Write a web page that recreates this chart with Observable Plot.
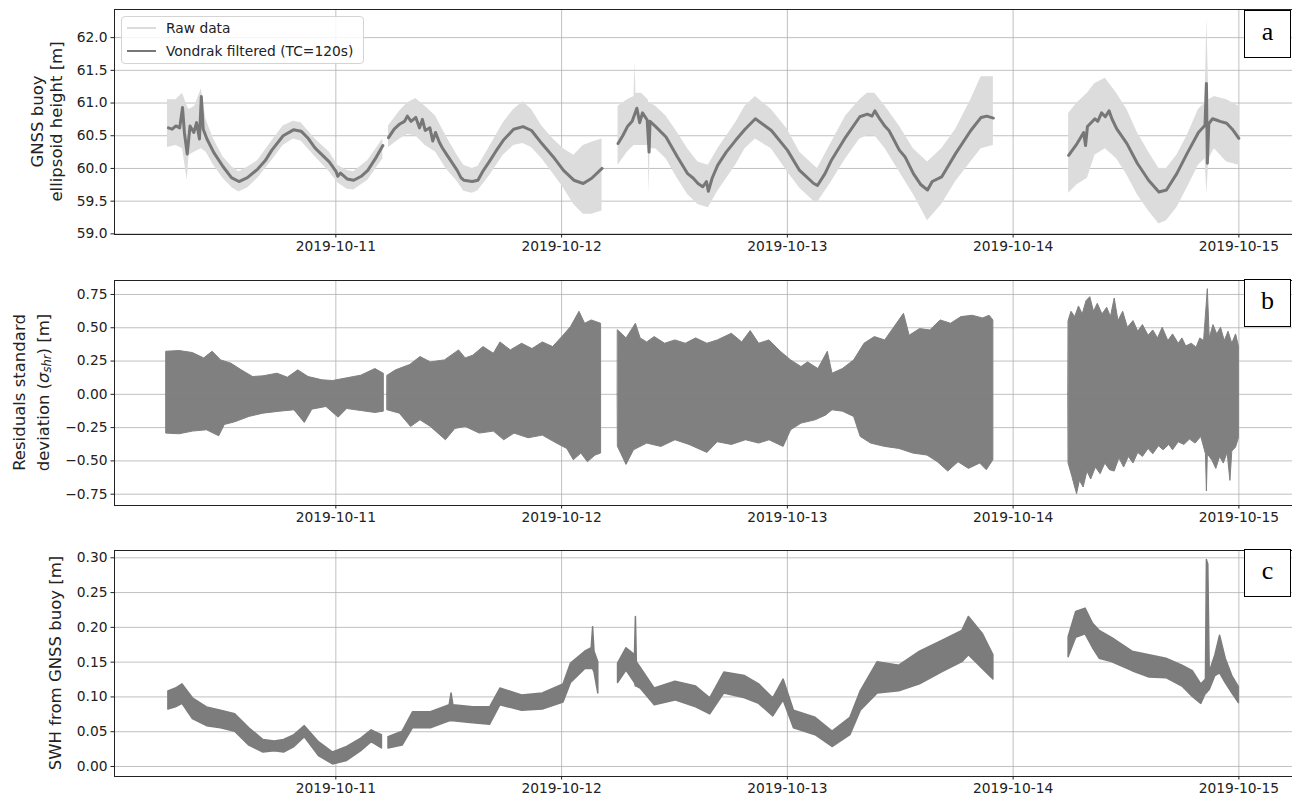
<!DOCTYPE html>
<html>
<head>
<meta charset="utf-8">
<script src="https://cdn.jsdelivr.net/npm/d3@7"></script>
<script src="https://cdn.jsdelivr.net/npm/@observablehq/plot@0.6"></script>
<style>
  body { margin: 0; background: white; }
  #wrap { position: relative; width: 1292px; height: 801px; overflow: hidden; font-family: "DejaVu Sans", sans-serif; }
  #wrap svg { display: block; }
  .legend { position: absolute; left: 121px; top: 16px; width: 241px; height: 46px; border: 1px solid #d4d4d4; border-radius: 4px; background: rgba(255,255,255,0.85); font-size: 13.8px; color: #222; }
  .legend .row { position: absolute; left: 0; height: 18px; line-height: 18px; }
  .legend .swatch { position: absolute; left: 5px; top: 8px; width: 29px; height: 2px; }
  .legend .lbl { position: absolute; left: 44px; top: 0; white-space: nowrap; }
  .panel-tag { position: absolute; left: 1244px; width: 45px; height: 46px; border: 1px solid #000; background: white; font-family: "Liberation Serif", "DejaVu Serif", serif; font-size: 26px; line-height: 42px; text-align: center; color: #000; }
</style>
</head>
<body>
<div id="wrap"></div>
<script>
// ---------- Data (hours since 2019-10-10 00:00 UTC) ----------
const dayTicks = ["2019-10-11", "2019-10-12", "2019-10-13", "2019-10-14", "2019-10-15"];
const heightTicks = [59.0, 59.5, 60.0, 60.5, 61.0, 61.5, 62.0];
const residTicks = [-0.75, -0.5, -0.25, 0, 0.25, 0.5, 0.75];
const swhTicks = [0, 0.05, 0.10, 0.15, 0.20, 0.25, 0.30];
const gapBounds = [29.4, 53.2, 98];

// Panel a: Vondrak filtered line
const filtHour = [6.2, 6.6, 7.0, 7.4, 7.7, 7.9, 8.2, 8.5, 8.9, 9.2, 9.5, 9.7, 9.9, 10.3, 11.0, 12.0, 12.9, 13.7, 14.6, 15.7, 16.5, 17.2, 18.4, 19.5, 20.3, 21.0, 21.8, 23.3, 24.0, 24.2, 24.5, 25.2, 25.9, 26.7, 27.4, 28.2, 29.0,
  29.6, 30.2, 30.8, 31.3, 31.6, 32.0, 32.5, 32.9, 33.2, 33.5, 34.0, 34.3, 34.6, 35.0, 35.3, 35.7, 36.3, 36.9, 37.3, 37.6, 38.5, 39.1, 39.6, 40.3, 41.0, 41.8, 42.9, 43.9, 44.8, 45.9, 47.1, 48.2, 49.3, 50.3, 51.2, 52.3,
  54.0, 54.5, 55.0, 55.5, 56.0, 56.3, 56.6, 57.1, 57.3, 57.4, 58.0, 59.1, 60.3, 61.4, 62.0, 62.5, 63.0, 63.4, 63.6, 64.0, 64.6, 65.5, 66.5, 67.5, 68.6, 70.3, 72.0, 73.3, 74.8, 75.2, 76.0, 76.7, 78.2, 79.7, 80.5, 81.0, 81.3, 81.8, 82.4, 82.8, 83.1, 83.9, 84.5, 85.4, 86.2, 86.9, 87.4, 88.4, 89.9, 91.5, 92.6, 93.2, 93.9,
  101.9, 102.8, 103.5, 103.7, 103.9, 104.7, 105.0, 105.4, 105.8, 106.2, 106.5, 107.0, 108.1, 109.2, 110.4, 111.5, 112.3, 113.4, 114.5, 115.7, 116.4, 116.55, 116.65, 116.8, 117.2, 117.6, 118.0, 118.7, 119.3, 120.0];
const filtValue = [60.62, 60.60, 60.65, 60.62, 60.93, 60.55, 60.22, 60.65, 60.55, 60.70, 60.45, 61.10, 60.60, 60.45, 60.25, 60.03, 59.86, 59.80, 59.86, 59.99, 60.12, 60.28, 60.50, 60.59, 60.57, 60.47, 60.31, 60.10, 59.96, 59.88, 59.93, 59.84, 59.82, 59.88, 59.97, 60.15, 60.35,
  60.47, 60.60, 60.68, 60.72, 60.80, 60.72, 60.78, 60.62, 60.75, 60.58, 60.62, 60.42, 60.55, 60.40, 60.32, 60.23, 60.10, 59.97, 59.86, 59.82, 59.80, 59.82, 59.95, 60.10, 60.26, 60.43, 60.60, 60.64, 60.58, 60.38, 60.18, 59.97, 59.82, 59.77, 59.85, 60.00,
  60.38, 60.50, 60.64, 60.72, 60.92, 60.70, 60.85, 60.74, 60.25, 60.72, 60.64, 60.48, 60.18, 59.92, 59.85, 59.77, 59.72, 59.80, 59.65, 59.85, 60.05, 60.25, 60.43, 60.60, 60.76, 60.58, 60.28, 59.97, 59.77, 59.74, 59.92, 60.13, 60.48, 60.79, 60.83, 60.80, 60.88, 60.76, 60.64, 60.58, 60.50, 60.28, 60.18, 59.92, 59.75, 59.67, 59.80, 59.87, 60.23, 60.58, 60.78, 60.80, 60.77,
  60.20, 60.38, 60.55, 60.35, 60.64, 60.76, 60.72, 60.85, 60.79, 60.88, 60.76, 60.61, 60.38, 60.08, 59.82, 59.64, 59.67, 59.92, 60.23, 60.55, 60.66, 61.30, 60.08, 60.68, 60.76, 60.74, 60.72, 60.69, 60.60, 60.46];

// Panel a: raw data envelope
const rawHour = [6.1, 7.0, 7.7, 8.2, 8.4, 9.0, 9.7, 10.2, 11.0, 12.0, 13.0, 13.7, 14.6, 15.7, 17.2, 18.4, 19.5, 20.3, 21.8, 23.3, 24.2, 25.2, 25.9, 27.4, 29.0,
  29.6, 30.8, 31.6, 32.5, 33.5, 34.6, 35.7, 36.9, 37.6, 38.5, 39.1, 40.3, 41.8, 42.9, 43.9, 44.8, 45.9, 47.1, 48.2, 49.3, 50.3, 51.2, 52.3,
  54.0, 55.0, 55.7, 55.8, 55.9, 56.5, 57.2, 57.3, 57.4, 58.0, 59.1, 60.3, 61.4, 62.5, 63.6, 64.6, 66.5, 67.5, 68.6, 70.3, 72.0, 73.3, 74.8, 75.2, 76.7, 78.2, 79.7, 80.5, 81.3, 82.4, 83.9, 85.4, 86.9, 88.4, 89.9, 91.5, 92.6, 93.9,
  101.9, 102.8, 103.9, 104.7, 105.8, 107.0, 108.1, 109.2, 110.4, 111.5, 112.3, 113.4, 114.5, 115.7, 116.4, 116.6, 116.8, 117.4, 118.7, 120.0];
const rawLow = [60.32, 60.35, 60.30, 59.82, 60.20, 60.25, 60.30, 60.25, 60.05, 59.85, 59.70, 59.64, 59.70, 59.85, 60.12, 60.35, 60.45, 60.42, 60.18, 59.95, 59.78, 59.68, 59.67, 59.82, 60.15,
  60.32, 60.45, 60.52, 60.50, 60.35, 60.25, 60.00, 59.80, 59.65, 59.62, 59.66, 59.88, 60.20, 60.35, 60.38, 60.32, 60.15, 59.92, 59.70, 59.45, 59.30, 59.30, 59.35,
  60.05, 60.25, 60.35, 60.35, 60.35, 60.35, 60.35, 59.60, 60.30, 60.30, 60.15, 59.85, 59.60, 59.45, 59.40, 59.65, 60.05, 60.30, 60.45, 60.30, 59.95, 59.70, 59.50, 59.48, 59.80, 60.15, 60.45, 60.50, 60.50, 60.30, 59.95, 59.60, 59.20, 59.45, 59.80, 60.10, 60.30, 60.35,
  59.62, 59.75, 59.85, 60.20, 60.30, 60.15, 59.90, 59.60, 59.35, 59.15, 59.20, 59.40, 59.70, 60.05, 60.15, 59.60, 60.15, 60.30, 60.10, 60.05];
const rawHigh = [61.05, 61.05, 61.15, 60.95, 60.90, 60.95, 61.22, 60.75, 60.45, 60.18, 60.02, 59.95, 60.02, 60.12, 60.42, 60.65, 60.72, 60.70, 60.45, 60.25, 60.05, 59.97, 59.95, 60.12, 60.45,
  60.65, 60.88, 61.00, 61.07, 60.95, 60.80, 60.50, 60.20, 60.05, 60.00, 60.03, 60.32, 60.70, 60.90, 61.02, 60.90, 60.65, 60.45, 60.30, 60.20, 60.35, 60.40, 60.45,
  60.95, 61.05, 61.10, 61.65, 61.15, 61.15, 61.05, 61.00, 61.00, 60.95, 60.80, 60.55, 60.30, 60.10, 60.05, 60.30, 60.70, 60.95, 61.10, 60.90, 60.60, 60.25, 60.05, 60.00, 60.40, 60.80, 61.05, 61.15, 61.15, 60.95, 60.65, 60.30, 60.10, 60.30, 60.60, 61.05, 61.40, 61.40,
  60.84, 61.00, 61.15, 61.30, 61.38, 61.15, 60.90, 60.55, 60.25, 60.00, 60.00, 60.20, 60.50, 60.90, 61.00, 62.30, 61.05, 61.10, 61.05, 60.95];

// Panel b: residual upper edge
const residUpHour = [6.0, 7.4, 8.8, 10.0, 10.9, 11.8, 12.9, 14.0, 15.2, 16.3, 17.8, 18.9, 20.0, 21.1, 22.6, 23.7, 25.2, 26.7, 28.2, 29.1,
  29.5, 30.4, 31.9, 33.0, 34.1, 35.6, 37.1, 37.8, 38.6, 39.7, 40.8, 41.5, 42.6, 43.8, 44.9, 46.0, 47.1, 48.2, 49.0, 49.9, 50.5, 51.2, 52.2,
  54.0, 54.4, 54.9, 55.9, 56.4, 57.1, 57.9, 59.0, 60.1, 61.2, 62.3, 63.5, 64.6, 66.1, 67.2, 68.1, 69.0, 70.1, 71.3, 72.4, 73.5, 74.2, 75.3, 76.3, 76.8, 77.9, 79.1, 80.2, 81.3, 82.4, 84.4, 85.0, 86.1, 87.2, 88.3, 89.4, 90.5, 91.7, 92.8, 93.5, 93.9,
  101.9, 102.2, 102.6, 103.0, 103.4, 103.8, 104.2, 104.6, 105.0, 105.5, 106.0, 106.4, 106.8, 107.2, 107.7, 108.2, 108.8, 109.3, 109.8, 110.4, 110.9, 111.4, 111.9, 112.5, 113.0, 113.6, 114.0, 114.4, 115.0, 115.5, 115.9, 116.3, 116.7, 116.9, 117.3, 117.7, 118.1, 118.5, 118.9, 119.3, 119.7, 120.0];
const residUp = [0.32, 0.325, 0.31, 0.27, 0.32, 0.255, 0.23, 0.18, 0.13, 0.135, 0.155, 0.125, 0.18, 0.13, 0.105, 0.10, 0.12, 0.14, 0.19, 0.155,
  0.14, 0.18, 0.22, 0.28, 0.24, 0.255, 0.33, 0.27, 0.29, 0.355, 0.305, 0.39, 0.33, 0.38, 0.34, 0.39, 0.355, 0.44, 0.505, 0.62, 0.53, 0.555, 0.53,
  0.48, 0.455, 0.42, 0.53, 0.42, 0.39, 0.43, 0.38, 0.405, 0.38, 0.42, 0.38, 0.405, 0.455, 0.39, 0.475, 0.38, 0.405, 0.32, 0.255, 0.205, 0.24, 0.19, 0.32, 0.155, 0.19, 0.255, 0.38, 0.43, 0.405, 0.605, 0.44, 0.49, 0.48, 0.555, 0.53, 0.58, 0.59, 0.57, 0.59, 0.555,
  0.55, 0.62, 0.58, 0.66, 0.60, 0.70, 0.73, 0.62, 0.68, 0.60, 0.65, 0.58, 0.72, 0.55, 0.62, 0.50, 0.55, 0.47, 0.52, 0.44, 0.48, 0.42, 0.50, 0.40, 0.45, 0.38, 0.42, 0.36, 0.38, 0.35, 0.42, 0.40, 0.79, 0.42, 0.52, 0.45, 0.50, 0.40, 0.47, 0.38, 0.45, 0.36];

// Panel b: residual lower edge
const residDownHour = [6.0, 7.4, 8.8, 10.3, 11.6, 12.2, 13.3, 14.8, 16.3, 18.1, 19.6, 20.7, 21.5, 23.0, 24.3, 25.2, 26.7, 28.2, 29.1,
  29.5, 30.8, 32.0, 33.0, 34.1, 35.7, 36.7, 37.8, 39.3, 40.8, 41.9, 43.0, 44.5, 46.0, 47.5, 48.6, 49.3, 50.1, 50.8, 51.6, 52.2,
  54.0, 54.9, 55.7, 57.1, 58.6, 60.1, 61.6, 63.5, 64.6, 66.1, 67.6, 69.0, 70.1, 71.6, 72.4, 73.5, 75.0, 76.1, 76.8, 77.9, 79.1, 79.8, 80.9, 82.4, 83.9, 85.4, 86.9, 88.0, 89.1, 90.2, 91.3, 92.5, 93.2, 93.9,
  101.9, 102.3, 102.6, 102.8, 103.1, 103.5, 103.9, 104.3, 104.8, 105.3, 105.8, 106.3, 106.8, 107.3, 107.8, 108.3, 108.8, 109.3, 109.8, 110.4, 110.9, 111.5, 112.0, 112.6, 113.0, 113.6, 114.2, 114.8, 115.4, 116.0, 116.5, 116.6, 116.7, 117.2, 117.6, 118.0, 118.4, 118.8, 119.1, 119.3, 119.7, 120.0];
const residDown = [-0.295, -0.30, -0.28, -0.27, -0.315, -0.23, -0.21, -0.17, -0.145, -0.13, -0.12, -0.215, -0.115, -0.095, -0.175, -0.11, -0.125, -0.14, -0.13,
  -0.12, -0.145, -0.245, -0.195, -0.245, -0.345, -0.26, -0.245, -0.295, -0.28, -0.345, -0.295, -0.33, -0.31, -0.37, -0.41, -0.495, -0.445, -0.51, -0.46, -0.445,
  -0.395, -0.53, -0.42, -0.37, -0.395, -0.345, -0.38, -0.44, -0.36, -0.38, -0.345, -0.37, -0.345, -0.395, -0.27, -0.22, -0.195, -0.16, -0.12, -0.13, -0.17, -0.32, -0.37, -0.395, -0.41, -0.445, -0.46, -0.51, -0.58, -0.51, -0.56, -0.52, -0.57, -0.495,
  -0.52, -0.62, -0.70, -0.75, -0.65, -0.70, -0.58, -0.64, -0.55, -0.60, -0.52, -0.57, -0.58, -0.48, -0.55, -0.47, -0.52, -0.44, -0.47, -0.41, -0.45, -0.39, -0.42, -0.38, -0.42, -0.36, -0.38, -0.34, -0.37, -0.32, -0.45, -0.73, -0.45, -0.50, -0.56, -0.47, -0.52, -0.44, -0.65, -0.43, -0.40, -0.33];

// Panel c: SWH envelope
const swhHour = [6.2, 7.0, 7.7, 8.8, 10.3, 11.8, 13.3, 14.8, 16.3, 17.5, 18.5, 19.6, 20.7, 22.2, 23.7, 25.2, 26.7, 27.8, 28.9,
  29.6, 31.1, 32.2, 34.1, 36.1, 36.3, 36.5, 38.6, 40.4, 41.5, 43.8, 46.0, 48.2, 49.0, 50.5, 51.2, 51.35, 51.5, 51.9,
  54.0, 54.9, 55.8, 55.9, 56.0, 56.4, 57.9, 60.1, 62.3, 63.8, 65.3, 67.5, 69.0, 70.5, 71.6, 72.7, 75.0, 76.8, 78.7, 79.8, 81.6, 83.9, 86.1, 88.4, 90.6, 91.3, 92.8, 93.9,
  101.9, 102.7, 103.7, 104.5, 105.2, 106.5, 108.7, 110.5, 112.3, 114.0, 115.1, 116.0, 116.5, 116.6, 116.75, 116.9, 117.5, 118.0, 118.6, 119.3, 120.0];
const swhLow = [0.082, 0.085, 0.090, 0.068, 0.058, 0.055, 0.050, 0.030, 0.020, 0.022, 0.020, 0.028, 0.042, 0.015, 0.003, 0.008, 0.022, 0.035, 0.026,
  0.026, 0.030, 0.055, 0.055, 0.065, 0.065, 0.065, 0.062, 0.060, 0.088, 0.080, 0.082, 0.092, 0.120, 0.140, 0.140, 0.140, 0.135, 0.105,
  0.120, 0.138, 0.120, 0.115, 0.115, 0.112, 0.088, 0.095, 0.085, 0.075, 0.105, 0.098, 0.090, 0.072, 0.095, 0.055, 0.045, 0.028, 0.045, 0.080, 0.105, 0.108, 0.118, 0.135, 0.150, 0.160, 0.140, 0.125,
  0.157, 0.185, 0.190, 0.170, 0.155, 0.150, 0.137, 0.128, 0.127, 0.115, 0.100, 0.090, 0.105, 0.105, 0.108, 0.110, 0.130, 0.134, 0.120, 0.105, 0.091];
const swhHigh = [0.108, 0.112, 0.118, 0.098, 0.085, 0.080, 0.075, 0.055, 0.038, 0.036, 0.038, 0.045, 0.058, 0.035, 0.020, 0.028, 0.040, 0.052, 0.045,
  0.042, 0.050, 0.078, 0.078, 0.088, 0.105, 0.088, 0.085, 0.085, 0.112, 0.102, 0.105, 0.118, 0.148, 0.165, 0.170, 0.200, 0.165, 0.150,
  0.148, 0.170, 0.160, 0.215, 0.150, 0.142, 0.112, 0.122, 0.115, 0.098, 0.135, 0.130, 0.118, 0.098, 0.125, 0.080, 0.070, 0.050, 0.070, 0.108, 0.150, 0.145, 0.165, 0.180, 0.195, 0.215, 0.190, 0.160,
  0.186, 0.222, 0.227, 0.205, 0.195, 0.185, 0.165, 0.160, 0.155, 0.145, 0.137, 0.118, 0.125, 0.297, 0.290, 0.135, 0.160, 0.188, 0.155, 0.130, 0.114];

// ---------- Helpers ----------
const DAY0 = Date.UTC(2019, 9, 10);
const toDate = h => new Date(DAY0 + h * 3600e3);
const seg = h => d3.bisect(gapBounds, h);
const xDomain = [toDate(0.47), toDate(125.7)];
const dayDates = dayTicks.map(s => new Date(s + "T00:00:00Z"));

const filtRows = filtHour.map((h, i) => ({t: toDate(h), s: seg(h), v: filtValue[i]}));
const rawRows = rawHour.map((h, i) => ({t: toDate(h), s: seg(h), lo: rawLow[i], hi: rawHigh[i]}));
const residUpRows = residUpHour.map((h, i) => ({t: toDate(h), s: seg(h), v: residUp[i]}));
const residDownRows = residDownHour.map((h, i) => ({t: toDate(h), s: seg(h), v: residDown[i]}));
const swhRows = swhHour.map((h, i) => ({t: toDate(h), s: seg(h), lo: swhLow[i], hi: swhHigh[i]}));

const gridStyle = {stroke: "#b0b0b0", strokeOpacity: 1, strokeWidth: 0.8};
const baseStyle = {fontFamily: "DejaVu Sans, sans-serif", fontSize: "13.8px", color: "#222", background: "white", overflow: "visible"};

function panel({height, marginTop, marginBottom, yDomain, yTicks, yFormat, marks}) {
  return Plot.plot({
    width: 1292, height, marginLeft: 114, marginRight: 0, marginTop, marginBottom,
    style: baseStyle,
    x: {type: "utc", domain: xDomain},
    y: {domain: yDomain},
    marks: [
      Plot.gridX(dayDates, gridStyle),
      Plot.gridY(yTicks, gridStyle),
      ...marks,
      Plot.axisX(dayDates, {tickFormat: d3.utcFormat("%Y-%m-%d"), tickSize: 3.5, tickPadding: 3.5, label: null, stroke: "#222"}),
      Plot.axisY(yTicks, {tickFormat: d3.format(yFormat), tickSize: 3.5, tickPadding: 3.5, label: null, stroke: "#222"}),
      Plot.frame({stroke: "#222", strokeWidth: 1})
    ]
  });
}

const wrap = document.getElementById("wrap");

const plotA = panel({
  height: 270, marginTop: 9, marginBottom: 36, yDomain: [58.99, 62.43], yTicks: heightTicks, yFormat: ".1f",
  marks: [
    Plot.areaY(rawRows, {x: "t", y1: "lo", y2: "hi", z: "s", fill: "#dcdcdc", curve: "linear"}),
    Plot.lineY(filtRows, {x: "t", y: "v", z: "s", stroke: "#777777", strokeWidth: 3, curve: "linear"})
  ]
});
const plotB = panel({
  height: 270, marginTop: 10, marginBottom: 35, yDomain: [-0.835, 0.855], yTicks: residTicks, yFormat: ".2f",
  marks: [
    Plot.areaY(residUpRows, {x: "t", y1: 0, y2: "v", z: "s", fill: "#808080", stroke: "#808080", strokeWidth: 1}),
    Plot.areaY(residDownRows, {x: "t", y1: "v", y2: 0, z: "s", fill: "#808080", stroke: "#808080", strokeWidth: 1})
  ]
});
const plotC = panel({
  height: 261, marginTop: 10, marginBottom: 25, yDomain: [-0.0144, 0.3105], yTicks: swhTicks, yFormat: ".2f",
  marks: [
    Plot.areaY(swhRows, {x: "t", y1: "lo", y2: "hi", z: "s", fill: "#7c7c7c", stroke: "#7c7c7c", strokeWidth: 1.5})
  ]
});

wrap.append(plotA, plotB, plotC);

// Y-axis titles
function yTitle(svg, x, y, build) {
  const t = d3.select(svg).append("text")
    .attr("transform", `translate(${x},${y}) rotate(-90)`)
    .attr("text-anchor", "middle")
    .attr("dominant-baseline", "central")
    .attr("font-family", "DejaVu Sans, sans-serif")
    .attr("font-size", "16.5px")
    .attr("fill", "#222");
  build(t);
}
yTitle(plotA, 37, 121.5, t => t.text("GNSS buoy"));
yTitle(plotA, 56, 121.5, t => t.text("ellipsoid height [m]"));
yTitle(plotB, 19, 122.5, t => t.text("Residuals standard"));
yTitle(plotB, 43, 122.5, t => {
  t.append("tspan").text("deviation (");
  t.append("tspan").attr("font-style", "italic").text("σ");
  t.append("tspan").attr("font-style", "italic").attr("font-size", "11.5px").attr("dy", "4").text("shr");
  t.append("tspan").attr("dy", "-4").text(") [m]");
});
yTitle(plotC, 55.5, 123, t => t.text("SWH from GNSS buoy [m]"));

// Legend
const legend = document.createElement("div");
legend.className = "legend";
legend.innerHTML = `
  <div class="row" style="top:2px;width:100%"><div class="swatch" style="background:#dcdcdc"></div><div class="lbl">Raw data</div></div>
  <div class="row" style="top:25px;width:100%"><div class="swatch" style="background:#777777"></div><div class="lbl">Vondrak filtered (TC=120s)</div></div>`;
wrap.appendChild(legend);

// Panel tags
[["a", 10], ["b", 279], ["c", 549]].forEach(([s, top]) => {
  const d = document.createElement("div");
  d.className = "panel-tag";
  d.style.top = top + "px";
  d.textContent = s;
  wrap.appendChild(d);
});
</script>
</body>
</html>
